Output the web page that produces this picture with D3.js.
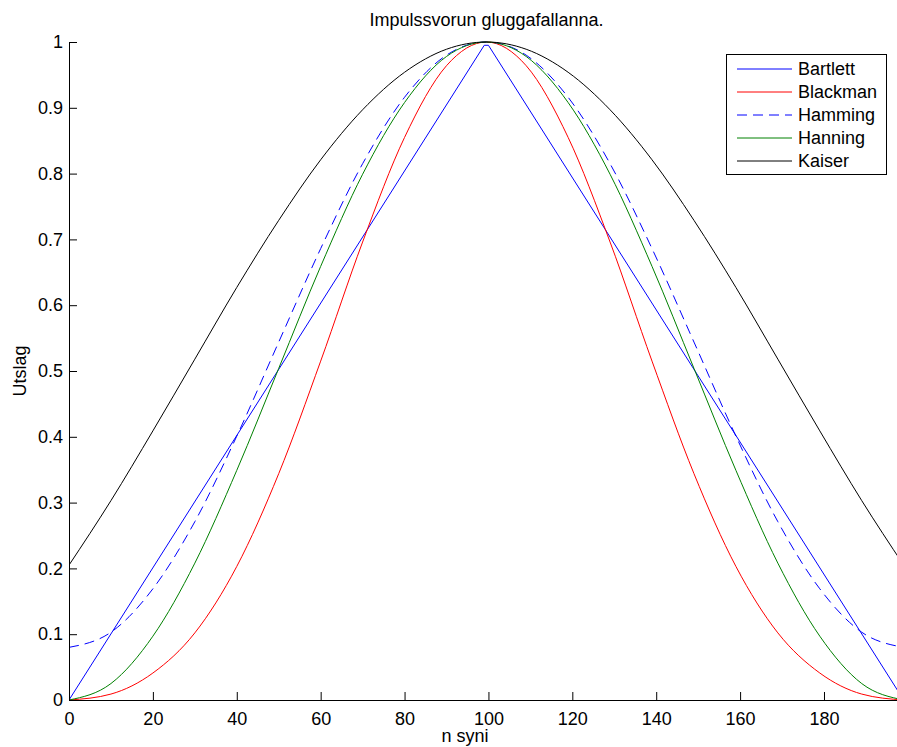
<!DOCTYPE html>
<html>
<head>
<meta charset="utf-8">
<script src="https://cdn.jsdelivr.net/npm/d3@7"></script>
<style>
  html, body { margin: 0; padding: 0; background: #fff; }
  svg { display: block; font-family: "Liberation Sans", Arial, sans-serif; }
</style>
</head>
<body>
<svg id="chart" width="897" height="747"></svg>
<script>
// ---- data ----
const titleText = "Impulssvorun gluggafallanna.";
const xLabelText = "n syni";
const yLabelText = "Utslag";
const xTicks = [0, 20, 40, 60, 80, 100, 120, 140, 160, 180];
const yTicks = [0, 0.1, 0.2, 0.3, 0.4, 0.5, 0.6, 0.7, 0.8, 0.9, 1];

const nSamples = [0, 10, 20, 30, 40, 50, 60, 70, 80, 90, 99.5, 109, 119, 129, 139, 149, 159, 169, 179, 189, 199];
const blackman = [0, 0.009, 0.041, 0.102, 0.203, 0.344, 0.515, 0.696, 0.855, 0.964, 1.000, 0.964, 0.855, 0.696, 0.515, 0.344, 0.203, 0.102, 0.041, 0.009, 0];
const hamming  = [0.080, 0.103, 0.169, 0.271, 0.401, 0.544, 0.686, 0.815, 0.916, 0.980, 1.000, 0.980, 0.916, 0.815, 0.686, 0.544, 0.401, 0.271, 0.169, 0.103, 0.080];
const hanning  = [0, 0.025, 0.097, 0.208, 0.349, 0.504, 0.659, 0.799, 0.908, 0.978, 1.000, 0.978, 0.908, 0.799, 0.659, 0.504, 0.349, 0.208, 0.097, 0.025, 0];
const kaiser   = [0.205, 0.303, 0.409, 0.518, 0.627, 0.729, 0.821, 0.897, 0.954, 0.989, 1.000, 0.989, 0.954, 0.897, 0.821, 0.729, 0.627, 0.518, 0.409, 0.303, 0.205];
const bartlettN = [0, 99, 100, 199];
const bartlett  = [0, 0.995, 0.995, 0];

const seriesNames  = ["Bartlett", "Blackman", "Hamming", "Hanning", "Kaiser"];
const seriesColors = ["#0000ff", "#ff0000", "#0000ff", "#008000", "#000000"];
const seriesDash   = [null, null, "10,6", null, null];

// ---- layout ----
const svg = d3.select("#chart");
const plotLeft = 69, plotBottom = 700, plotTop = 42;
const x = d3.scaleLinear().domain([0, 199]).range([plotLeft, plotLeft + 199 * 4.1944]);
const y = d3.scaleLinear().domain([0, 1]).range([plotBottom, plotTop]);
const fontSize = 18;

const series = [
  { name: seriesNames[0], xs: bartlettN, ys: bartlett, curve: d3.curveLinear },
  { name: seriesNames[1], xs: nSamples, ys: blackman, curve: d3.curveMonotoneX },
  { name: seriesNames[2], xs: nSamples, ys: hamming, curve: d3.curveMonotoneX },
  { name: seriesNames[3], xs: nSamples, ys: hanning, curve: d3.curveMonotoneX },
  { name: seriesNames[4], xs: nSamples, ys: kaiser, curve: d3.curveMonotoneX }
];

svg.append("defs").append("clipPath").attr("id", "plotclip")
  .append("rect").attr("x", plotLeft).attr("y", 0).attr("width", 897 - plotLeft).attr("height", plotBottom + 1);

const plot = svg.append("g").attr("clip-path", "url(#plotclip)");
series.forEach((s, i) => {
  const pts = s.xs.map((v, k) => [v, s.ys[k]]);
  const line = d3.line().x(d => x(d[0])).y(d => y(d[1])).curve(s.curve);
  plot.append("path")
    .attr("d", line(pts))
    .attr("fill", "none")
    .attr("stroke", seriesColors[i])
    .attr("stroke-width", 1)
    .attr("stroke-dasharray", seriesDash[i]);
});

// ---- axes ----
const xAxis = d3.axisBottom(x).tickValues(xTicks).tickSizeInner(-8).tickSizeOuter(0).tickPadding(12).tickFormat(d3.format("d"));
const gx = svg.append("g").attr("transform", `translate(0,${plotBottom})`).call(xAxis);
gx.select(".domain").attr("stroke", "#000").attr("stroke-width", 1);
gx.selectAll(".tick line").attr("stroke", "#000");
gx.selectAll(".tick text").attr("font-size", fontSize).attr("fill", "#000").attr("font-family", "Liberation Sans, Arial, sans-serif");

const yAxis = d3.axisLeft(y).tickValues(yTicks).tickSizeInner(-8).tickSizeOuter(0).tickPadding(6).tickFormat(d => d3.format("~g")(d));
const gy = svg.append("g").attr("transform", `translate(${plotLeft},0)`).call(yAxis);
gy.select(".domain").attr("stroke", "#000").attr("stroke-width", 1);
gy.selectAll(".tick line").attr("stroke", "#000");
gy.selectAll(".tick text").attr("font-size", fontSize).attr("fill", "#000").attr("font-family", "Liberation Sans, Arial, sans-serif");

// ---- labels ----
svg.append("text").attr("x", 486.5).attr("y", 26).attr("text-anchor", "middle")
  .attr("font-size", fontSize).text(titleText);
svg.append("text").attr("x", 465).attr("y", 742).attr("text-anchor", "middle")
  .attr("font-size", fontSize).text(xLabelText);
svg.append("text").attr("transform", "translate(26,371) rotate(-90)").attr("text-anchor", "middle")
  .attr("font-size", fontSize).text(yLabelText);

// ---- legend ----
const lg = svg.append("g");
lg.append("rect").attr("x", 726.5).attr("y", 54.5).attr("width", 160).attr("height", 120)
  .attr("fill", "#fff").attr("stroke", "#000").attr("stroke-width", 1);
seriesNames.forEach((name, i) => {
  const yy = 69 + i * 23;
  lg.append("line").attr("x1", 737).attr("x2", 792).attr("y1", yy).attr("y2", yy)
    .attr("stroke", seriesColors[i]).attr("stroke-width", 1).attr("stroke-dasharray", seriesDash[i]);
  lg.append("text").attr("x", 798).attr("y", yy).attr("dy", "0.35em")
    .attr("font-size", fontSize).text(name);
});
</script>
</body>
</html>
